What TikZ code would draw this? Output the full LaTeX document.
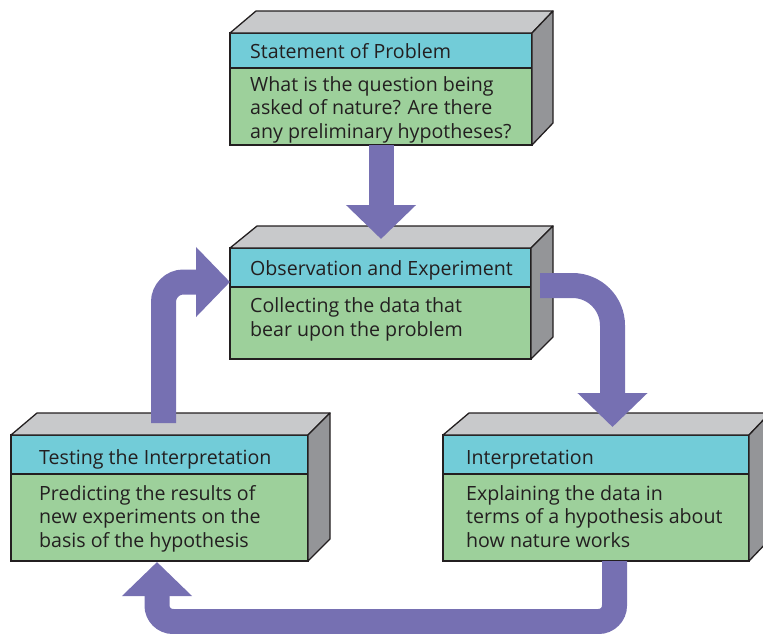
\documentclass[tikz,border=0pt]{standalone}
\usepackage{fontspec}
\setmainfont{Open Sans}
\usetikzlibrary{arrows.meta,calc}
\definecolor{hdr}{HTML}{72CCD8}
\definecolor{bdy}{HTML}{9DD09B}
\definecolor{topg}{HTML}{C8C9CB}
\definecolor{sideg}{HTML}{949598}
\definecolor{arr}{HTML}{7670B2}
\definecolor{ink}{HTML}{231F20}
\begin{document}
\begin{tikzpicture}[x=1pt,y=-1pt,
  face/.style={draw=ink,line width=1.3pt,line join=round},
  frontbox/.style={draw=ink,line width=1.3pt,fill=bdy,anchor=north west,inner sep=0pt,outer sep=0pt},
  txt/.style={anchor=base west,inner sep=0pt,text=ink,font=\fontsize{19.6}{23.5}\selectfont,align=left},
  flow/.style={draw=arr,line width=25pt,-{Triangle[width=68pt,length=34pt]}}]
\useasboundingbox (0,0) rectangle (763,633);

% ---- Statement of Problem
\node[frontbox,minimum width=302pt,minimum height=112pt] (s) at (230,33) {};
\draw[face,fill=hdr] (s.north west) rectangle ($(s.north east)+(0,35)$);
\draw[face,fill=topg] (s.north west) -- ++(26,-22) -- ($(s.north east)+(21,-22)$) -- (s.north east) -- cycle;
\draw[face,fill=sideg] (s.north east) -- ++(21,-22) -- ($(s.south east)+(21,-22)$) -- (s.south east) -- cycle;
\node[txt] (sh) at (250,58) {Statement of Problem};
\node[txt] (sb) at (250,138) {What is the question being\\asked of nature? Are there\\any preliminary hypotheses?};

% ---- Observation and Experiment
\node[frontbox,minimum width=301pt,minimum height=111pt] (o) at (230,248) {};
\draw[face,fill=hdr] (o.north west) rectangle ($(o.north east)+(0,39)$);
\draw[face,fill=topg] (o.north west) -- ++(27,-22) -- ($(o.north east)+(22,-22)$) -- (o.north east) -- cycle;
\draw[face,fill=sideg] (o.north east) -- ++(22,-22) -- ($(o.south east)+(22,-22)$) -- (o.south east) -- cycle;
\node[txt] (oh) at (250,275) {Observation and Experiment};
\node[txt] (ob) at (250,336) {Collecting the data that\\bear upon the problem};

% ---- Testing the Interpretation
\node[frontbox,minimum width=297pt,minimum height=126pt] (t) at (11,435) {};
\draw[face,fill=hdr] (t.north west) rectangle ($(t.north east)+(0,39)$);
\draw[face,fill=topg] (t.north west) -- ++(26,-22) -- ($(t.north east)+(22,-22)$) -- (t.north east) -- cycle;
\draw[face,fill=sideg] (t.north east) -- ++(22,-22) -- ($(t.south east)+(22,-22)$) -- (t.south east) -- cycle;
\node[txt] (th) at (39,464) {Testing the Interpretation};
\node[txt] (tb) at (39,547) {Predicting the results of\\new experiments on the\\basis of the hypothesis};

% ---- Interpretation
\node[frontbox,minimum width=306pt,minimum height=126pt] (i) at (443,435) {};
\draw[face,fill=hdr] (i.north west) rectangle ($(i.north east)+(0,39)$);
\draw[face,fill=topg] (i.north west) -- ++(26,-22) -- ($(i.north east)+(21,-22)$) -- (i.north east) -- cycle;
\draw[face,fill=sideg] (i.north east) -- ++(21,-22) -- ($(i.south east)+(21,-22)$) -- (i.south east) -- cycle;
\node[txt] (ih) at (466,464) {Interpretation};
\node[txt] (ib) at (466,547) {Explaining the data in\\terms of a hypothesis about\\how nature works};

% ---- Arrows
\draw[flow] (s.south) -- ($(s.south |- o.north)+(0,-9)$);
\draw[flow,rounded corners=40pt] ($(o.north east)+(9,37.5)$) -| ($(i.north)+(16.5,-8)$);
\draw[flow,rounded corners=16pt] ($(i.south)+(18.5,0)$) -- ++(0,60.5) -| ($(t.south)+(-2.5,1)$);
\draw[flow,rounded corners=20pt] ($(t.north)+(4,-12)$) |- ($(o.north west)+(0,34)$);
\end{tikzpicture}
\end{document}
